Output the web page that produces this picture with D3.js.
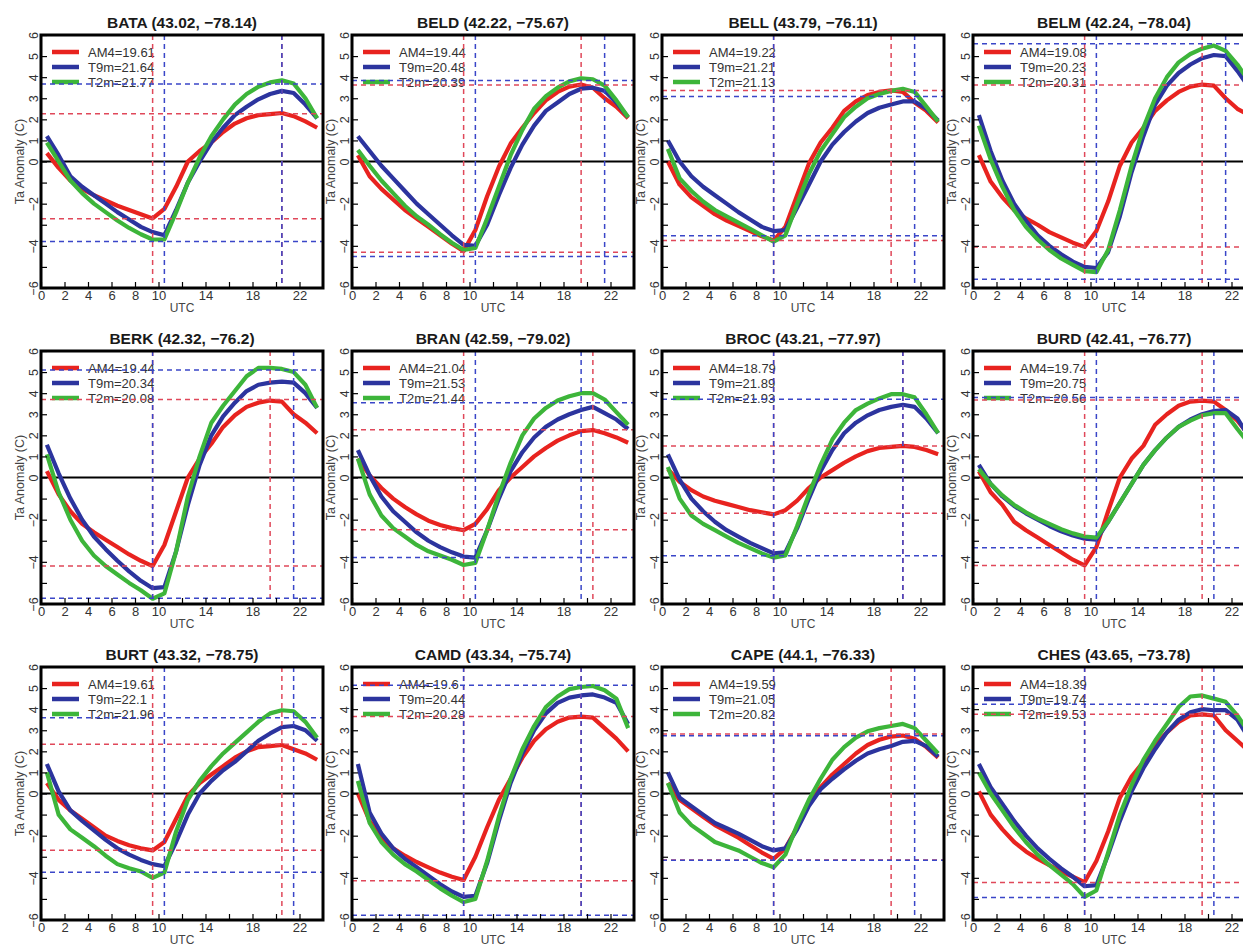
<!DOCTYPE html>
<html>
<head>
<meta charset="utf-8">
<script src="https://cdn.jsdelivr.net/npm/d3@7"></script>
<style>
  html, body { margin: 0; padding: 0; background: #fff; overflow: hidden; }
  text { font-family: "Liberation Sans", Arial, Helvetica, sans-serif; }
</style>
</head>
<body>
<svg id="chart" width="1243" height="948"></svg>
<script>
// Hourly mean 2 m air-temperature anomaly (C) at NYS Mesonet sites, hours 0.5 ... 23.5 UTC
const hours = d3.range(24).map(i => i + 0.5);

const stations = ["BATA", "BELD", "BELL", "BELM", "BERK", "BRAN", "BROC", "BURD", "BURT", "CAMD", "CAPE", "CHES"];
const lats = ["43.02", "42.22", "43.79", "42.24", "42.32", "42.59", "43.21", "42.41", "43.32", "43.34", "44.1", "43.65"];
const lons = ["78.14", "75.67", "76.11", "78.04", "76.2", "79.02", "77.97", "76.77", "78.75", "75.74", "76.33", "73.78"];

// Mean temperatures shown in each legend
const am4Mean = ["19.61", "19.44", "19.22", "19.08", "19.44", "21.04", "18.79", "19.74", "19.61", "19.6", "19.59", "18.39"];
const t9mMean = ["21.64", "20.48", "21.21", "20.23", "20.34", "21.53", "21.89", "20.75", "22.1", "20.44", "21.05", "19.74"];
const t2mMean = ["21.77", "20.39", "21.13", "20.31", "20.08", "21.44", "21.93", "20.56", "21.96", "20.28", "20.82", "19.53"];

// AM4 model anomaly, one row per station
const am4Anom = [
  [0.4,-0.3,-0.9,-1.3,-1.6,-1.85,-2.1,-2.3,-2.5,-2.7,-2.25,-1.2,0.0,0.5,0.9,1.4,1.8,2.05,2.2,2.25,2.3,2.15,1.9,1.6],
  [0.3,-0.7,-1.3,-1.8,-2.3,-2.7,-3.1,-3.5,-3.9,-4.25,-3.25,-1.65,-0.25,0.85,1.6,2.3,2.9,3.3,3.55,3.65,3.5,3.0,2.6,2.05],
  [0.0,-1.1,-1.7,-2.1,-2.5,-2.8,-3.05,-3.3,-3.55,-3.75,-3.1,-1.6,-0.1,0.9,1.6,2.4,2.85,3.15,3.3,3.37,3.3,2.8,2.4,1.85],
  [0.3,-0.95,-1.7,-2.3,-2.7,-3.0,-3.35,-3.6,-3.85,-4.05,-3.3,-1.9,-0.2,0.9,1.6,2.4,2.9,3.3,3.55,3.65,3.6,3.0,2.5,2.2],
  [0.3,-0.8,-1.6,-2.2,-2.6,-2.95,-3.3,-3.65,-3.95,-4.2,-3.2,-1.6,0.0,0.9,1.6,2.4,2.95,3.35,3.55,3.65,3.6,3.0,2.6,2.1],
  [0.9,0.1,-0.5,-1.0,-1.4,-1.75,-2.05,-2.25,-2.4,-2.5,-2.2,-1.5,-0.6,0.0,0.5,1.0,1.4,1.75,2.0,2.2,2.25,2.1,1.9,1.65],
  [0.4,-0.2,-0.6,-0.9,-1.1,-1.25,-1.4,-1.55,-1.65,-1.75,-1.55,-1.1,-0.5,0.0,0.35,0.7,1.0,1.25,1.4,1.45,1.5,1.45,1.3,1.1],
  [0.3,-0.7,-1.3,-2.1,-2.5,-2.85,-3.2,-3.55,-3.9,-4.17,-3.3,-1.6,0.0,0.9,1.5,2.5,3.0,3.4,3.6,3.65,3.6,3.2,2.7,2.0],
  [0.5,-0.3,-0.8,-1.2,-1.6,-2.0,-2.25,-2.45,-2.6,-2.7,-2.3,-1.2,-0.1,0.5,0.9,1.3,1.7,2.0,2.2,2.25,2.3,2.1,1.9,1.6],
  [0.0,-1.3,-2.1,-2.6,-2.95,-3.25,-3.5,-3.75,-3.95,-4.1,-3.0,-1.6,-0.3,0.7,1.7,2.5,3.05,3.4,3.6,3.65,3.6,3.1,2.6,2.0],
  [0.5,-0.3,-0.7,-1.1,-1.5,-1.8,-2.1,-2.45,-2.8,-3.1,-2.6,-1.6,-0.5,0.3,0.9,1.4,1.9,2.3,2.55,2.7,2.75,2.6,2.2,1.7],
  [0.1,-1.0,-1.7,-2.3,-2.75,-3.1,-3.4,-3.7,-3.95,-4.2,-3.2,-1.8,-0.2,0.8,1.5,2.3,2.9,3.4,3.7,3.75,3.7,3.0,2.5,2.0]
];

// T9m observed anomaly
const t9mAnom = [
  [1.2,0.3,-0.7,-1.2,-1.6,-2.0,-2.4,-2.75,-3.1,-3.35,-3.5,-2.3,-1.0,0.0,0.9,1.6,2.2,2.6,2.95,3.2,3.35,3.25,2.7,2.05],
  [1.2,0.5,-0.2,-0.8,-1.4,-2.0,-2.5,-3.0,-3.5,-3.95,-4.0,-3.0,-1.6,-0.3,0.8,1.7,2.4,2.8,3.2,3.45,3.5,3.35,2.8,2.1],
  [1.0,0.0,-0.7,-1.2,-1.6,-2.0,-2.4,-2.75,-3.1,-3.3,-3.25,-2.2,-1.1,0.0,0.8,1.4,1.9,2.3,2.55,2.7,2.85,2.85,2.5,1.95],
  [2.2,0.5,-0.9,-2.0,-2.8,-3.5,-4.0,-4.4,-4.75,-5.0,-5.05,-4.3,-2.6,-0.5,1.2,2.7,3.6,4.2,4.6,4.9,5.05,5.0,4.3,3.5],
  [1.55,0.2,-1.0,-2.0,-2.8,-3.4,-3.95,-4.45,-4.9,-5.25,-5.2,-3.5,-1.3,0.6,2.0,2.9,3.55,4.1,4.4,4.5,4.55,4.5,4.0,3.3],
  [1.3,0.1,-0.9,-1.6,-2.1,-2.6,-3.0,-3.3,-3.55,-3.75,-3.8,-2.5,-1.0,0.3,1.2,1.9,2.4,2.75,3.0,3.2,3.35,3.05,2.75,2.3],
  [1.1,-0.1,-1.0,-1.6,-2.1,-2.5,-2.8,-3.1,-3.35,-3.6,-3.55,-2.4,-1.0,0.3,1.3,2.1,2.6,2.95,3.2,3.35,3.45,3.35,2.8,2.1],
  [0.6,-0.3,-0.9,-1.35,-1.7,-2.0,-2.3,-2.55,-2.75,-2.9,-2.95,-2.1,-1.2,-0.3,0.6,1.3,1.9,2.4,2.75,3.0,3.15,3.2,2.8,1.9],
  [1.4,0.1,-0.8,-1.3,-1.75,-2.2,-2.6,-2.9,-3.15,-3.35,-3.45,-2.3,-1.0,0.0,0.6,1.1,1.5,2.0,2.5,2.85,3.15,3.2,3.0,2.5],
  [1.4,-0.9,-1.9,-2.6,-3.1,-3.5,-3.9,-4.3,-4.65,-4.9,-4.85,-3.3,-1.3,0.5,1.9,3.0,3.8,4.3,4.55,4.65,4.7,4.55,4.3,3.3],
  [1.0,-0.2,-0.6,-1.0,-1.4,-1.65,-1.9,-2.2,-2.5,-2.7,-2.6,-1.7,-0.6,0.2,0.7,1.15,1.55,1.9,2.1,2.25,2.45,2.5,2.25,1.75],
  [1.4,0.3,-0.5,-1.3,-2.0,-2.6,-3.1,-3.55,-3.95,-4.4,-4.35,-2.9,-1.3,0.1,1.2,2.1,2.9,3.5,3.85,4.0,3.95,3.95,3.5,2.6]
];

// T2m observed anomaly
const t2mAnom = [
  [0.9,0.0,-0.9,-1.5,-2.0,-2.4,-2.8,-3.15,-3.45,-3.7,-3.7,-2.4,-1.0,0.2,1.2,2.0,2.7,3.2,3.55,3.75,3.85,3.7,3.0,2.05],
  [0.55,-0.2,-0.9,-1.5,-2.1,-2.6,-3.0,-3.45,-3.85,-4.2,-4.1,-2.7,-1.2,0.3,1.5,2.5,3.1,3.5,3.8,3.95,3.9,3.6,2.9,2.1],
  [0.6,-0.8,-1.4,-1.9,-2.3,-2.6,-2.9,-3.2,-3.5,-3.8,-3.5,-2.0,-0.6,0.5,1.3,2.1,2.6,3.0,3.2,3.35,3.45,3.3,2.6,1.9],
  [1.7,0.1,-1.2,-2.3,-3.1,-3.7,-4.2,-4.6,-4.9,-5.2,-5.25,-4.2,-2.3,-0.2,1.6,3.0,4.0,4.7,5.1,5.35,5.5,5.25,4.6,3.8],
  [1.1,-0.7,-2.0,-3.0,-3.7,-4.2,-4.6,-5.0,-5.35,-5.75,-5.5,-3.5,-0.9,1.0,2.6,3.4,4.1,4.8,5.2,5.2,5.15,5.0,4.4,3.3],
  [0.9,-0.8,-1.8,-2.4,-2.8,-3.2,-3.5,-3.7,-3.9,-4.15,-4.05,-2.5,-0.8,0.7,2.0,2.8,3.3,3.65,3.85,4.0,4.0,3.7,3.1,2.5],
  [0.5,-1.0,-1.8,-2.2,-2.5,-2.8,-3.1,-3.35,-3.6,-3.8,-3.7,-2.3,-0.8,0.6,1.8,2.6,3.2,3.5,3.75,3.95,3.95,3.8,3.0,2.1],
  [0.4,-0.3,-0.85,-1.3,-1.65,-1.95,-2.2,-2.45,-2.65,-2.8,-2.85,-2.1,-1.2,-0.3,0.6,1.3,1.9,2.4,2.7,2.95,3.05,3.05,2.3,1.6],
  [1.0,-1.0,-1.7,-2.1,-2.5,-2.95,-3.35,-3.55,-3.7,-4.0,-3.75,-1.8,-0.3,0.6,1.3,1.9,2.4,2.9,3.4,3.8,3.95,3.9,3.4,2.65],
  [0.6,-1.4,-2.3,-2.9,-3.35,-3.7,-4.1,-4.5,-4.85,-5.15,-5.0,-3.2,-1.1,0.7,2.1,3.2,4.1,4.6,4.95,5.05,5.1,4.9,4.5,3.1],
  [0.5,-0.9,-1.5,-1.9,-2.3,-2.5,-2.7,-3.0,-3.3,-3.5,-2.9,-1.5,-0.3,0.7,1.6,2.2,2.65,2.95,3.1,3.2,3.3,3.1,2.5,1.9],
  [1.0,0.0,-0.8,-1.6,-2.3,-2.9,-3.4,-3.85,-4.3,-4.9,-4.6,-2.8,-1.0,0.4,1.6,2.5,3.3,4.1,4.6,4.65,4.5,4.35,3.7,2.9]
];

// Dashed guides: [hour of minimum, hour of maximum] and [maximum, minimum] anomaly
const redGuideHours  = [[9.5,20.5],[9.5,19.5],[9.5,19.5],[9.5,19.5],[9.5,19.5],[9.5,20.5],[9.5,20.5],[9.5,19.5],[9.5,20.5],[9.5,19.5],[9.5,19.5],[9.5,19.5]];
const blueGuideHours = [[10.5,20.5],[10.5,21.5],[9.5,21.5],[10.5,21.5],[9.5,21.5],[10.5,19.5],[9.5,20.5],[10.5,20.5],[10.5,21.5],[9.5,19.5],[9.5,21.5],[9.5,20.5]];
const redGuideVals   = [[2.26,-2.72],[3.63,-4.3],[3.37,-3.75],[3.63,-4.06],[3.7,-4.2],[2.26,-2.48],[1.5,-1.69],[3.68,-4.17],[2.34,-2.69],[3.65,-4.14],[2.82,-3.16],[3.76,-4.22]];
const blueGuideVals  = [[3.67,-3.79],[3.84,-4.5],[3.08,-3.52],[5.58,-5.58],[5.1,-5.73],[3.55,-3.79],[3.71,-3.71],[3.79,-3.33],[3.59,-3.74],[5.13,-5.77],[2.74,-3.17],[4.23,-4.93]];

const yTickValues = d3.range(-6, 7);
const yLabelValues = [-6, -4, -2, 0, 1, 2, 3, 4, 5, 6];
const xTickValues = d3.range(0, 24, 2);
const xLabelValues = [0, 2, 4, 6, 8, 10, 14, 18, 22];

const seriesNames = ["AM4", "T9m", "T2m"];
const seriesColors = ["#e8231f", "#2c349e", "#3db53a"];
const guideRed = "#e0485a";
const guideBlue = "#3a46c8";

const colLeft = [41, 352, 662, 973];
const rowTop = [35, 351, 667];
const pw = 282, ph = 253;

const svg = d3.select("#chart");
const minus = s => "\u2212" + s;

stations.forEach((st, i) => {
  const col = i % 4, row = Math.floor(i / 4);
  const g = svg.append("g").attr("transform", `translate(${colLeft[col]},${rowTop[row]})`);
  const x = d3.scaleLinear().domain([0, 24]).range([0, pw]);
  const y = d3.scaleLinear().domain([-6, 6]).range([ph, 0]);

  const clipId = "clip-" + st;
  g.append("clipPath").attr("id", clipId)
    .append("rect").attr("x", 0).attr("y", 0).attr("width", pw).attr("height", ph);

  // zero line
  g.append("line")
    .attr("x1", 0).attr("x2", pw).attr("y1", y(0)).attr("y2", y(0))
    .attr("stroke", "#000").attr("stroke-width", 2);

  // anomaly curves
  const line = d3.line().x((d, k) => x(hours[k])).y(d => y(d));
  const plot = g.append("g").attr("clip-path", `url(#${clipId})`);
  [am4Anom[i], t9mAnom[i], t2mAnom[i]].forEach((vals, s) => {
    plot.append("path").datum(vals)
      .attr("d", line)
      .attr("fill", "none")
      .attr("stroke", seriesColors[s])
      .attr("stroke-width", 4.2)
      .attr("stroke-linejoin", "round");
  });

  // legend
  const means = [am4Mean[i], t9mMean[i], t2mMean[i]];
  seriesNames.forEach((nm, s) => {
    const ly = 17 + s * 15;
    g.append("line").attr("x1", 11).attr("x2", 38).attr("y1", ly).attr("y2", ly)
      .attr("stroke", seriesColors[s]).attr("stroke-width", 4.5);
    g.append("text").attr("x", 47).attr("y", ly + 4.5)
      .attr("font-size", 13).attr("fill", "#333")
      .text(`${nm}=${means[s]}`);
  });

  // dashed guides
  const guides = g.append("g").attr("clip-path", `url(#${clipId})`)
    .attr("stroke-width", 1.5).attr("stroke-dasharray", "5,4").attr("fill", "none");
  [[redGuideHours[i], redGuideVals[i], guideRed], [blueGuideHours[i], blueGuideVals[i], guideBlue]]
    .forEach(([hs, vs, c]) => {
      hs.forEach(h => guides.append("line")
        .attr("x1", x(h)).attr("x2", x(h)).attr("y1", 0).attr("y2", ph).attr("stroke", c));
      vs.forEach(v => guides.append("line")
        .attr("x1", 0).attr("x2", pw).attr("y1", y(v)).attr("y2", y(v)).attr("stroke", c));
    });

  // axes with inward ticks
  const yAxis = d3.axisLeft(y).tickValues(yTickValues).tickSize(-6)
    .tickFormat(d => yLabelValues.includes(d) ? (d < 0 ? minus(-d) : String(d)) : "");
  const ya = g.append("g").call(yAxis);
  ya.select(".domain").remove();
  ya.selectAll(".tick line").attr("stroke", "#000").attr("stroke-width", 1.2);
  ya.selectAll(".tick text")
    .attr("x", null).attr("dy", null)
    .attr("transform", "translate(-3,0) rotate(-90)")
    .attr("text-anchor", "middle")
    .attr("font-size", 12.5).attr("fill", "#333")
    .attr("font-family", "Liberation Sans, Arial, sans-serif");

  const xAxis = d3.axisBottom(x).tickValues(xTickValues).tickSize(-6).tickPadding(3)
    .tickFormat(d => xLabelValues.includes(d) ? String(d) : "");
  const xa = g.append("g").attr("transform", `translate(0,${ph})`).call(xAxis);
  xa.select(".domain").remove();
  xa.selectAll(".tick line").attr("stroke", "#000").attr("stroke-width", 1.2);
  xa.selectAll(".tick text")
    .attr("font-size", 13).attr("fill", "#333")
    .attr("font-family", "Liberation Sans, Arial, sans-serif");

  // frame
  g.append("rect").attr("x", 0).attr("y", 0).attr("width", pw).attr("height", ph)
    .attr("fill", "none").attr("stroke", "#000").attr("stroke-width", 3);

  // titles and axis names
  g.append("text").attr("x", pw / 2).attr("y", -7)
    .attr("text-anchor", "middle").attr("font-size", 15.5).attr("font-weight", "bold")
    .attr("fill", "#1a1a1a")
    .text(`${st} (${lats[i]}, ${minus(lons[i])})`);

  g.append("text").attr("x", pw / 2).attr("y", ph + 24)
    .attr("text-anchor", "middle").attr("font-size", 12).attr("fill", "#444")
    .text("UTC");

  g.append("text")
    .attr("transform", `translate(-17,${y(0)}) rotate(-90)`)
    .attr("text-anchor", "middle").attr("font-size", 12.5).attr("fill", "#444")
    .text("Ta Anomaly (C)");
});
</script>
</body>
</html>
